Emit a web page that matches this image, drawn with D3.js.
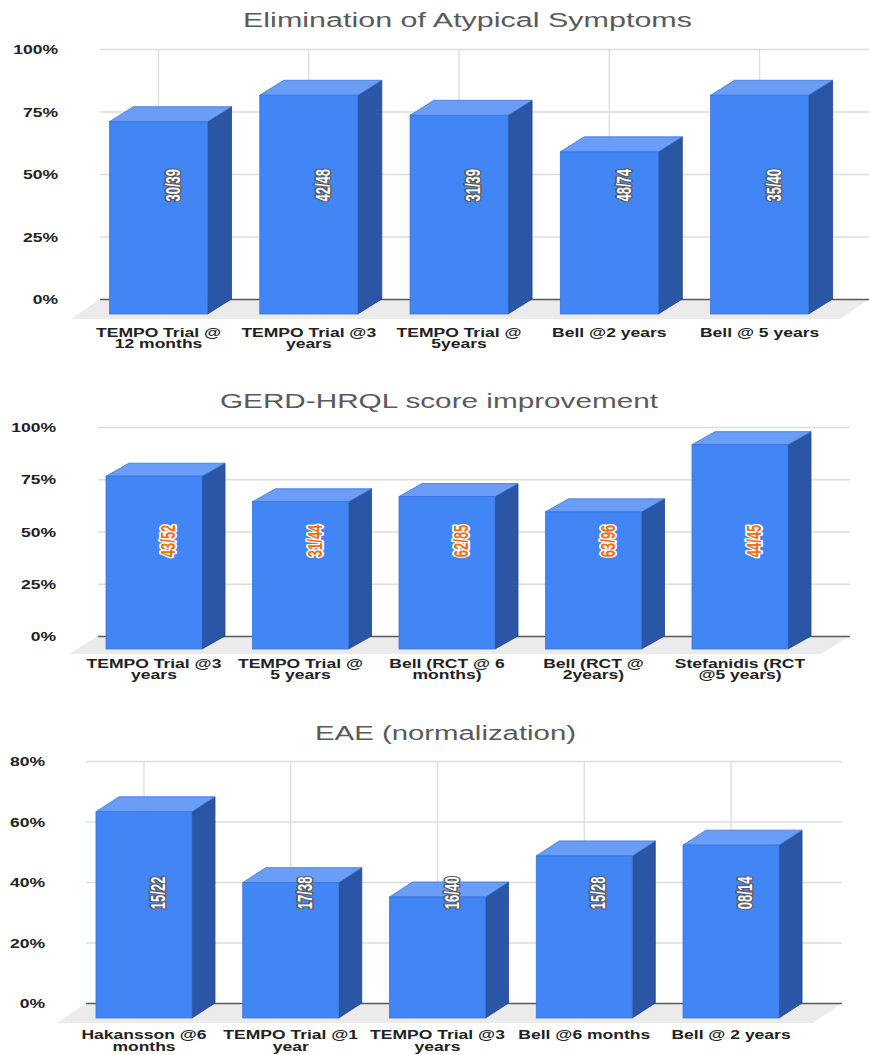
<!DOCTYPE html>
<html>
<head>
<meta charset="utf-8">
<script src="https://cdn.jsdelivr.net/npm/d3@7"></script>
<style>
  html, body { margin: 0; padding: 0; background: #ffffff; }
  svg { display: block; }
</style>
</head>
<body>
<svg id="chart" width="869" height="1055"></svg>
<script>
// ---- Data ----
const atypicalTitle = "Elimination of Atypical Symptoms";
const atypicalCategories = ["TEMPO Trial @\n12 months", "TEMPO Trial @3\nyears", "TEMPO Trial @\n5years", "Bell @2 years", "Bell @ 5 years"];
const atypicalCounts = ["30/39", "42/48", "31/39", "48/74", "35/40"];
const atypicalTicks = [0, 25, 50, 75, 100];

const hrqlTitle = "GERD-HRQL score improvement";
const hrqlCategories = ["TEMPO Trial @3\nyears", "TEMPO Trial @\n5 years", "Bell (RCT @ 6\nmonths)", "Bell (RCT @\n2years)", "Stefanidis (RCT\n@5 years)"];
const hrqlCounts = ["43/52", "31/44", "62/85", "63/96", "44/45"];
const hrqlTicks = [0, 25, 50, 75, 100];

const eaeTitle = "EAE (normalization)";
const eaeCategories = ["Hakansson @6\nmonths", "TEMPO Trial @1\nyear", "TEMPO Trial @3\nyears", "Bell @6 months", "Bell @ 2 years"];
const eaeCounts = ["15/22", "17/38", "16/40", "15/28", "08/14"];
const eaeTicks = [0, 20, 40, 60, 80];

// ---- Styling / layout ----
const FONT = "'Liberation Sans', Arial, Helvetica, sans-serif";
const STRETCH = 1.35;            // wide lettering used across the figure
const CAT_STRETCH = 1.46;
const COLORS = {
  front: "#4285f4", frontEdge: "#3a74dc",
  top: "#6a9df5", side: "#2b56a5", sideEdge: "#1f4289",
  grid: "#dcdcdc", base: "#5a5a5a", floor: "#ebebeb",
  title: "#5a5a5a", text: "#222222"
};

const panels = [
  { title: atypicalTitle, categories: atypicalCategories, counts: atypicalCounts, ticks: atypicalTicks,
    top: 49, base: 299, gridX: [100, 869], band: [83.4, 834.7], barW: 98, depth: [24, 15],
    floor: [-29, 20], tickRight: 58, titlePos: [467.5, 27, 449], catY: 336.5, lineGap: 12,
    vGrid: true, labelStyle: "white" },
  { title: hrqlTitle, categories: hrqlCategories, counts: hrqlCounts, ticks: hrqlTicks,
    top: 427, base: 636, gridX: [98, 850], band: [80.75, 813.25], barW: 96, depth: [23, 13],
    floor: [-29, 18], tickRight: 56, titlePos: [439, 408, 438], catY: 667.5, lineGap: 11.5,
    vGrid: false, labelStyle: "orange" },
  { title: eaeTitle, categories: eaeCategories, counts: eaeCounts, ticks: eaeTicks,
    top: 761, base: 1003, gridX: [86, 842], band: [70.6, 804.4], barW: 96, depth: [23, 15],
    floor: [-29, 20], tickRight: 45, titlePos: [445.5, 740, 261], catY: 1039, lineGap: 12,
    vGrid: true, labelStyle: "white" }
];

const svg = d3.select("#chart");

function ratio(s) {
  const [n, d] = s.split("/").map(Number);
  return 100 * n / d;
}

function drawPanel(p) {
  const g = svg.append("g");
  const maxTick = d3.max(p.ticks);
  const y = d3.scaleLinear().domain([0, maxTick]).range([p.base, p.top]);
  const x = d3.scaleBand().domain(p.categories).range(p.band).padding(0);
  const cx = d => x(d) + x.bandwidth() / 2;
  const [dx, dy] = p.depth;
  const gridW = p.gridX[1] - p.gridX[0];

  // title
  g.append("text")
    .attr("x", p.titlePos[0]).attr("y", p.titlePos[1])
    .attr("text-anchor", "middle")
    .attr("textLength", p.titlePos[2]).attr("lengthAdjust", "spacingAndGlyphs")
    .style("font-family", FONT).style("font-size", "20px")
    .style("fill", COLORS.title)
    .text(p.title);

  // floor of the 3D plot
  const [fdx, fdy] = p.floor;
  g.append("polygon")
    .attr("points", [
      [p.gridX[0], p.base], [p.gridX[1], p.base],
      [p.gridX[1] + fdx, p.base + fdy], [p.gridX[0] + fdx, p.base + fdy]
    ].map(pt => pt.join(",")).join(" "))
    .attr("fill", COLORS.floor);

  // value axis with horizontal gridlines
  const axis = d3.axisLeft(y).tickValues(p.ticks).tickFormat(d => d + "%")
    .tickSize(-gridW).tickPadding(0);
  const ag = g.append("g").attr("transform", `translate(${p.gridX[0]},0)`).call(axis);
  ag.select(".domain").remove();
  ag.selectAll(".tick line")
    .attr("stroke", d => d === 0 ? COLORS.base : COLORS.grid)
    .attr("stroke-width", d => d === 0 ? 1.6 : 1.3);
  ag.selectAll(".tick text")
    .attr("x", null).attr("dy", "0.35em")
    .attr("text-anchor", "end")
    .attr("transform", `translate(${p.tickRight - p.gridX[0]},0) scale(${STRETCH},1)`)
    .style("font-family", FONT).style("font-size", "13px").style("font-weight", "bold")
    .style("fill", COLORS.text);

  // vertical gridlines on the back wall
  if (p.vGrid) {
    g.append("g").selectAll("line").data(p.categories).join("line")
      .attr("x1", cx).attr("x2", cx)
      .attr("y1", y(maxTick)).attr("y2", p.base)
      .attr("stroke", COLORS.grid).attr("stroke-width", 1.3);
  }

  // bars as extruded boxes
  const bars = g.append("g").selectAll("g").data(p.counts.map((c, i) => ({ c, v: ratio(c), cat: p.categories[i] })))
    .join("g");
  bars.each(function (d) {
    const b = d3.select(this);
    const fx = cx(d.cat) - p.barW / 2;
    const fy = y(d.v) + dy;
    const fb = p.base + dy;
    const w = p.barW;
    b.append("polygon")
      .attr("points", [[fx + w, fy], [fx + w + dx, fy - dy], [fx + w + dx, p.base], [fx + w, fb]].map(q => q.join(",")).join(" "))
      .attr("fill", COLORS.side).attr("stroke", COLORS.sideEdge).attr("stroke-width", 0.8);
    b.append("polygon")
      .attr("points", [[fx, fy], [fx + w, fy], [fx + w + dx, fy - dy], [fx + dx, fy - dy]].map(q => q.join(",")).join(" "))
      .attr("fill", COLORS.top).attr("stroke", COLORS.frontEdge).attr("stroke-width", 0.8);
    b.append("rect")
      .attr("x", fx).attr("y", fy).attr("width", w).attr("height", fb - fy)
      .attr("fill", COLORS.front).attr("stroke", COLORS.frontEdge).attr("stroke-width", 0.8);
  });

  // count labels along the bars
  const labelY = y(maxTick * 0.455);
  const orange = p.labelStyle === "orange";
  bars.append("text")
    .attr("transform", d => `translate(${cx(d.cat) + 14},${labelY}) scale(1.6,1) rotate(-90)`)
    .attr("text-anchor", "middle").attr("dominant-baseline", "central")
    .style("font-family", FONT).style("font-size", "13px")
    .style("font-weight", "bold")
    .style("fill", orange ? "#f06d12" : "#ffffff")
    .style("stroke", orange ? "#ffffff" : "#5a5a5a")
    .style("stroke-width", orange ? 2.4 : 2)
    .style("paint-order", "stroke")
    .style("stroke-linejoin", "round")
    .text(d => d.c);

  // category labels
  const cg = g.append("g");
  p.categories.forEach(cat => {
    const lines = cat.split("\n");
    const t = cg.append("text")
      .attr("transform", `translate(${cx(cat)},${p.catY}) scale(${CAT_STRETCH},1)`)
      .attr("text-anchor", "middle")
      .style("font-family", FONT).style("font-size", "12px").style("font-weight", "bold")
      .style("fill", COLORS.text);
    lines.forEach((ln, i) => {
      t.append("tspan").attr("x", 0).attr("y", i * p.lineGap).text(ln);
    });
  });
}

panels.forEach(drawPanel);
</script>
</body>
</html>
